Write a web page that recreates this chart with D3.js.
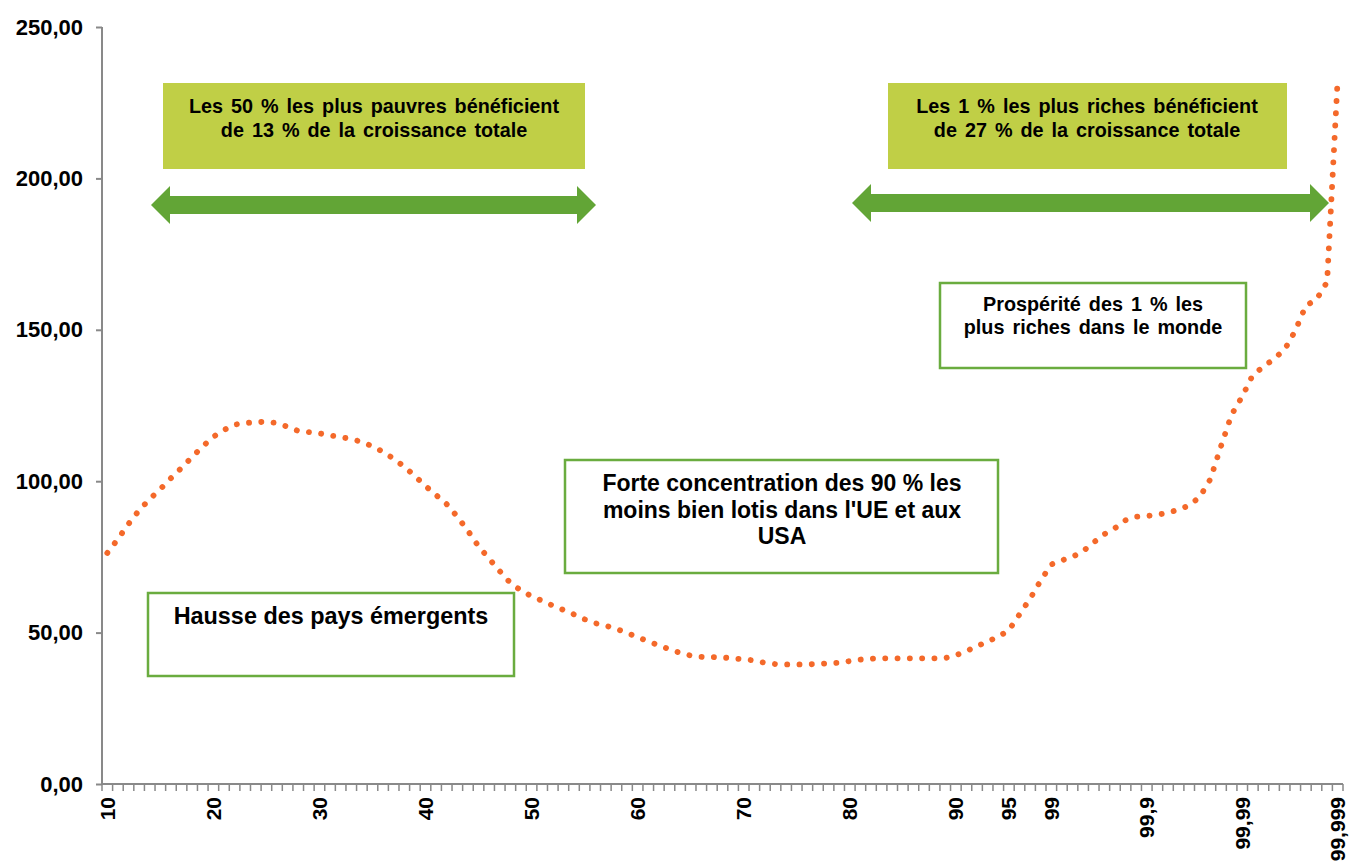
<!DOCTYPE html>
<html lang="fr">
<head>
<meta charset="utf-8">
<script src="https://cdn.jsdelivr.net/npm/d3@7"></script>
<style>
  html, body { margin: 0; padding: 0; background: #fff; }
  svg { display: block; font-family: "Liberation Sans", Arial, sans-serif; }
  .axis text { font-weight: bold; fill: #000; }
  .axis path, .axis line { stroke: #898989; }
</style>
</head>
<body>
<svg id="chart" width="1349" height="867"></svg>
<script>
// Percentiles of the global income distribution (category axis)
const categories = [
  "10","11","12","13","14","15","16","17","18","19",
  "20","21","22","23","24","25","26","27","28","29",
  "30","31","32","33","34","35","36","37","38","39",
  "40","41","42","43","44","45","46","47","48","49",
  "50","51","52","53","54","55","56","57","58","59",
  "60","61","62","63","64","65","66","67","68","69",
  "70","71","72","73","74","75","76","77","78","79",
  "80","81","82","83","84","85","86","87","88","89",
  "90","91","92","93","94","95","96","97","98","99",
  "99,1","99,2","99,3","99,4","99,5","99,6","99,7","99,8","99,9",
  "99,91","99,92","99,93","99,94","99,95","99,96","99,97","99,98","99,99",
  "99,991","99,992","99,993","99,994","99,995","99,996","99,997","99,998","99,999"
];

// Real income growth (%) for each percentile
const growth = [
  76.3, 80.9, 85.9, 90.4, 94.1, 97.4, 101.0, 104.4, 108.0, 111.5,
  114.7, 116.9, 118.7, 119.2, 119.5, 119.6, 119.2, 118.0, 116.6, 116.2,
  115.8, 115.1, 114.6, 113.9, 113.0, 111.5, 109.7, 107.4, 104.8, 101.7,
  98.4, 95.4, 92.4, 88.3, 83.6, 78.5, 74.4, 70.3, 66.4, 63.9,
  62.0, 60.5, 58.9, 57.5, 56.0, 54.4, 53.1, 52.3, 51.2, 49.9,
  48.5, 47.1, 45.8, 44.5, 43.3, 42.4, 42.0, 41.9, 41.8, 41.5,
  41.2, 40.8, 40.0, 39.6, 39.5, 39.5, 39.5, 39.6, 39.9, 40.0,
  40.6, 41.1, 41.4, 41.5, 41.5, 41.5, 41.5, 41.5, 41.5, 41.6,
  42.5, 43.9, 45.5, 47.1, 48.6, 50.8, 56.0, 61.2, 67.2, 72.5,
  73.9, 75.0, 76.9, 79.8, 82.5, 84.5, 87.1, 88.3, 88.5,
  88.9, 89.6, 90.6, 92.0, 94.8, 100.7, 111.6, 122.0, 128.0,
  135.1, 137.8, 140.4, 143.5, 149.7, 158.0, 160.0, 165.8, 233.0
];

// Labelled percentiles on the x axis
const xTickLabels = ["10","20","30","40","50","60","70","80","90","95","99","99,9","99,99","99,999"];
// Value axis ticks
const yTicks = [0, 50, 100, 150, 200, 250];

const svg = d3.select("#chart");
const plotLeft = 102, plotRight = 1343, plotTop = 27, plotBottom = 784;

const x = d3.scaleBand().domain(categories).range([plotLeft, plotRight]).padding(0);
const y = d3.scaleLinear().domain([0, 250]).range([plotBottom, plotTop]);

const fmt = d => d.toFixed(2).replace(".", ",");

// Y axis
const yAxis = svg.append("g")
  .attr("class", "axis")
  .attr("transform", `translate(${plotLeft},0)`)
  .call(d3.axisLeft(y).tickValues(yTicks).tickSize(6).tickPadding(13).tickFormat(fmt));
yAxis.select(".domain").attr("stroke-width", 2).attr("d", `M0,${plotTop}V${plotBottom}`);
yAxis.selectAll(".tick line").attr("stroke-width", 2);
yAxis.selectAll("text").style("font-size", "22px");

// X axis: tick marks on the boundaries between categories
const xAxis = svg.append("g").attr("class", "axis").attr("transform", `translate(0,${plotBottom})`);
xAxis.append("path").attr("d", `M${plotLeft},0H${plotRight}`).attr("stroke-width", 2).attr("fill", "none");
const boundaries = categories.map(c => x(c)).concat([plotRight]);
xAxis.selectAll("line.tk").data(boundaries).join("line")
  .attr("class", "tk")
  .attr("x1", d => d).attr("x2", d => d)
  .attr("y1", 0).attr("y2", 7)
  .attr("stroke-width", 1.5);

const xLabels = svg.append("g")
  .attr("class", "axis")
  .attr("transform", `translate(0,${plotBottom})`)
  .call(d3.axisBottom(x).tickValues(xTickLabels).tickSize(0));
xLabels.select(".domain").remove();
xLabels.selectAll("text")
  .style("font-size", "21px")
  .attr("transform", "rotate(-90)")
  .attr("x", -13)
  .attr("y", 0)
  .attr("dy", "0.36em")
  .attr("text-anchor", "end");

// Dotted growth curve
const line = d3.line()
  .x((d, i) => x(categories[i]) + x.bandwidth() / 2)
  .y(d => y(d));
svg.append("path")
  .datum(growth)
  .attr("d", line)
  .attr("fill", "none")
  .attr("stroke", "#f4692a")
  .attr("stroke-width", 5.8)
  .attr("stroke-linecap", "round")
  .attr("stroke-dasharray", "0.1,12.2");

// Annotations
const note = svg.append("g");

function textBlock(g, cx, baseline, lines, size, lh, extra) {
  const t = g.append("text")
    .attr("text-anchor", "middle")
    .attr("font-weight", "bold")
    .attr("font-size", size)
    .attr("fill", "#000")
    .style("word-spacing", (extra || 0) + "px");
  lines.forEach((s, i) => {
    t.append("tspan").attr("x", cx).attr("y", baseline + i * lh).text(s);
  });
}

function greenBox(x0, y0, w, h) {
  note.append("rect").attr("x", x0).attr("y", y0).attr("width", w).attr("height", h)
    .attr("fill", "#c0cf46");
}
function outlineBox(x0, y0, w, h) {
  note.append("rect").attr("x", x0).attr("y", y0).attr("width", w).attr("height", h)
    .attr("fill", "#fff").attr("stroke", "#6aac3f").attr("stroke-width", 2.5);
}
function doubleArrow(x0, x1, cy) {
  const hl = 19, hh = 19, sh = 9;
  note.append("path")
    .attr("d", `M${x0},${cy} L${x0 + hl},${cy - hh} L${x0 + hl},${cy - sh} L${x1 - hl},${cy - sh} L${x1 - hl},${cy - hh} L${x1},${cy} L${x1 - hl},${cy + hh} L${x1 - hl},${cy + sh} L${x0 + hl},${cy + sh} L${x0 + hl},${cy + hh} Z`)
    .attr("fill", "#62a536");
}

// Bottom 50 %
greenBox(163, 83, 422, 86);
textBlock(note, 374, 113, ["Les 50 % les plus pauvres bénéficient", "de 13 % de la croissance totale"], 19.8, 23.5, 2.5);
doubleArrow(151, 596, 205);

// Top 1 %
greenBox(888, 83, 399, 86);
textBlock(note, 1087, 113, ["Les 1 % les plus riches bénéficient", "de 27 % de la croissance totale"], 19.8, 23.5, 2.5);
doubleArrow(852, 1329, 203);

outlineBox(940, 283, 306, 85);
textBlock(note, 1093, 311, ["Prospérité des 1 % les", "plus riches dans le monde"], 19.8, 23, 2.5);

outlineBox(565, 460, 433, 113);
textBlock(note, 782, 491, ["Forte concentration des 90 % les", "moins bien lotis dans l'UE et aux", "USA"], 23, 26.5, 0);

outlineBox(148, 593, 366, 83);
textBlock(note, 331, 624, ["Hausse des pays émergents"], 23.4, 26, 0);
</script>
</body>
</html>
